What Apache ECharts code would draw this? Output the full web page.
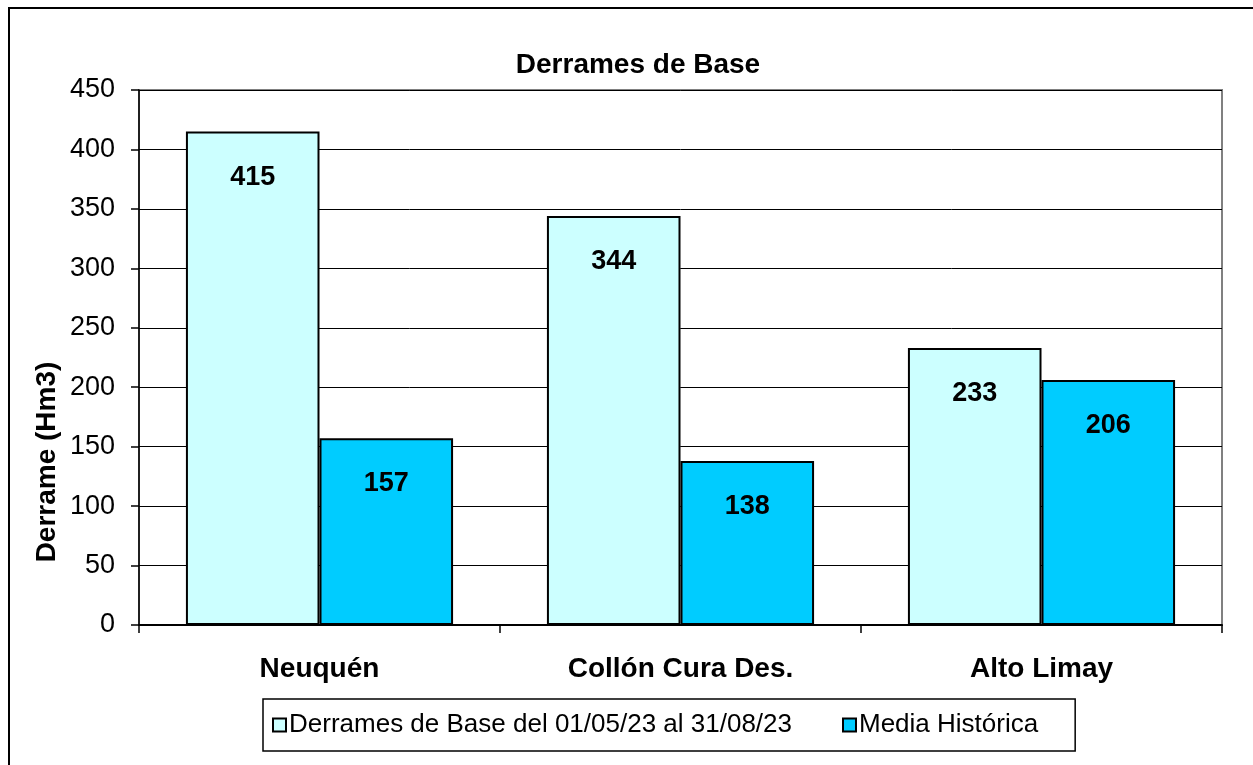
<!DOCTYPE html>
<html>
<head>
<meta charset="utf-8">
<script src="https://cdn.jsdelivr.net/npm/echarts@6/dist/echarts.min.js"></script>
<style>
  html, body { margin: 0; padding: 0; background: #fff; }
  #main { width: 1253px; height: 765px; }
</style>
</head>
<body>
<div id="main"></div>
<script>
// datos
const categorias = ['Neuquén', 'Collón Cura Des.', 'Alto Limay'];
const derramesBase = [415, 344, 233];
const mediaHistorica = [157, 138, 206];
const nombresSeries = ['Derrames de Base del 01/05/23 al 31/08/23', 'Media Histórica'];

const fuente = '"Liberation Sans", Arial, sans-serif';

let myChart = echarts.init(document.getElementById('main'));

const etiqueta = {
  show: true,
  position: 'insideTop',
  distance: 32,
  color: '#000',
  fontFamily: fuente,
  fontWeight: 'bold',
  fontSize: 27
};

let option = {
  backgroundColor: '#fff',
  animation: false,
  title: {
    text: 'Derrames de Base',
    left: 633,
    top: 46,
    textAlign: 'center',
    textStyle: { fontFamily: fuente, fontWeight: 'bold', fontSize: 28, color: '#000' }
  },
  graphic: [
    {
      type: 'rect',
      shape: { x: 9, y: 8, width: 1300, height: 800 },
      style: { fill: 'none', stroke: '#000', lineWidth: 2 },
      silent: true
    },
    {
      type: 'text',
      x: 47,
      y: 462,
      rotation: Math.PI / 2,
      style: {
        text: 'Derrame (Hm3)',
        fontFamily: fuente,
        fontWeight: 'bold',
        fontSize: 28,
        fill: '#000',
        align: 'center',
        verticalAlign: 'middle'
      }
    }
  ],
  legend: {
    data: nombresSeries,
    left: 263,
    top: 699,
    padding: [13, 37, 13, 9],
    itemGap: 50,
    itemWidth: 13,
    itemHeight: 13,
    icon: 'rect',
    borderColor: '#000',
    borderWidth: 1.5,
    textStyle: { fontFamily: fuente, fontSize: 26, color: '#000', padding: [0, 0, 0, -2] }
  },
  grid: {
    left: 139,
    right: 31,
    top: 90,
    bottom: 140,
    show: true,
    borderColor: '#808080',
    borderWidth: 2
  },
  xAxis: {
    type: 'category',
    data: categorias,
    axisLine: { lineStyle: { color: '#000', width: 2 } },
    axisTick: { show: true, length: 8, lineStyle: { color: '#000', width: 1.5 } },
    axisLabel: {
      margin: 30,
      color: '#000',
      fontFamily: fuente,
      fontWeight: 'bold',
      fontSize: 28
    }
  },
  yAxis: {
    type: 'value',
    min: 0,
    max: 450,
    interval: 50,
    axisLine: { show: true, lineStyle: { color: '#000', width: 1.5 } },
    axisTick: { show: true, length: 8, lineStyle: { color: '#000', width: 1.5 } },
    splitLine: { lineStyle: { color: '#000', width: 1 } },
    axisLabel: {
      margin: 24,
      color: '#000',
      fontFamily: fuente,
      fontSize: 27
    }
  },
  series: [
    {
      name: nombresSeries[0],
      type: 'bar',
      data: derramesBase,
      barGap: '0%',
      barCategoryGap: '26%',
      itemStyle: { color: '#CCFFFF', borderColor: '#000', borderWidth: 2 },
      label: etiqueta
    },
    {
      name: nombresSeries[1],
      type: 'bar',
      data: mediaHistorica,
      barGap: '0%',
      barCategoryGap: '26%',
      itemStyle: { color: '#00CCFF', borderColor: '#000', borderWidth: 2 },
      label: etiqueta
    }
  ]
};
myChart.setOption(option);
</script>
</body>
</html>
